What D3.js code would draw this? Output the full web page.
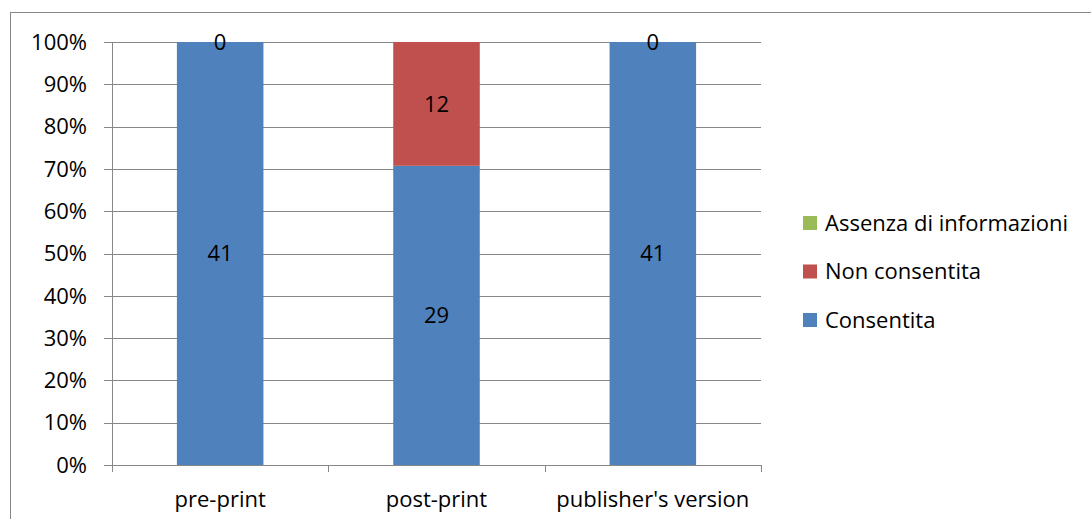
<!DOCTYPE html>
<html><head><meta charset="utf-8">
<script src="https://cdn.jsdelivr.net/npm/d3@7"></script>
<style>body{margin:0;background:#fff;}svg{display:block;font-family:"Open Sans",sans-serif;}</style>
</head><body>
<svg id="c" width="1091" height="519"></svg>
<script>
const categories = ["pre-print", "post-print", "publisher's version"];
const consentita = [41, 29, 41];
const nonConsentita = [0, 12, 0];
const assenza = [null, null, null];
const seriesNames = ["Consentita", "Non consentita", "Assenza di informazioni"];
const seriesColors = ["#4F81BD", "#C0504D", "#9BBB59"];
const yTicks = [0, 0.1, 0.2, 0.3, 0.4, 0.5, 0.6, 0.7, 0.8, 0.9, 1];

const FS = 22;
const svg = d3.select("#c");
const grey = "#878787";
svg.append("rect").attr("x", 10.5).attr("y", 12.5).attr("width", 1200).attr("height", 600)
  .attr("fill", "none").attr("stroke", grey).attr("stroke-width", 1);

const L = 112, R = 761, T = 42, B = 465;
const x = d3.scaleBand().domain(categories).range([L, R]).paddingInner(0.6).paddingOuter(0.3);
const xb = d3.scaleBand().domain(categories).range([L, R]);
const y = d3.scaleLinear().domain([0, 1]).range([B, T]);

svg.append("g").selectAll("line").data(yTicks).join("line")
  .attr("x1", L - 8).attr("x2", R).attr("y1", d => Math.round(y(d)) + 0.5).attr("y2", d => Math.round(y(d)) + 0.5)
  .attr("stroke", grey).attr("stroke-width", 1);

const table = categories.map((c, i) => ({cat: c, Consentita: consentita[i], "Non consentita": nonConsentita[i], "Assenza di informazioni": assenza[i] || 0, raw: [consentita[i], nonConsentita[i], assenza[i]]}));
const stack = d3.stack().keys(seriesNames).offset(d3.stackOffsetExpand);
const stacked = stack(table);

stacked.forEach((s, si) => {
  svg.append("g").selectAll("rect").data(s).join("rect")
    .attr("x", d => x(d.data.cat)).attr("width", x.bandwidth())
    .attr("y", d => y(d[1])).attr("height", d => y(d[0]) - y(d[1]))
    .attr("fill", seriesColors[si]);
});
stacked.forEach((s, si) => {
  svg.append("g").selectAll("text").data(s.filter(d => d.data.raw[si] !== null)).join("text")
    .attr("x", d => x(d.data.cat) + x.bandwidth() / 2)
    .attr("y", d => y((d[0] + d[1]) / 2))
    .attr("dy", "0.35em").attr("text-anchor", "middle")
    .attr("font-size", FS).attr("fill", "#000")
    .text(d => d.data.raw[si]);
});

svg.append("line").attr("x1", L + 0.5).attr("x2", L + 0.5).attr("y1", T).attr("y2", B + 7).attr("stroke", grey);
svg.append("line").attr("x1", L - 8).attr("x2", R).attr("y1", B + 0.5).attr("y2", B + 0.5).attr("stroke", grey);
const catTicks = categories.map(c => xb(c)).concat([R]);
svg.append("g").selectAll("line").data(catTicks).join("line")
  .attr("x1", d => Math.round(d) + 0.5).attr("x2", d => Math.round(d) + 0.5)
  .attr("y1", B).attr("y2", B + 7).attr("stroke", grey);

svg.append("g").selectAll("text").data(yTicks).join("text")
  .attr("x", 87).attr("y", d => y(d)).attr("dy", "0.35em").attr("text-anchor", "end")
  .attr("font-size", FS).attr("fill", "#000").text(d => Math.round(d * 100) + "%");
svg.append("g").selectAll("text").data(categories).join("text")
  .attr("x", d => xb(d) + xb.bandwidth() / 2).attr("y", 507).attr("text-anchor", "middle")
  .attr("font-size", FS).attr("fill", "#000").text(d => d);

const legendOrder = [2, 1, 0];
const lg = svg.append("g").selectAll("g").data(legendOrder).join("g")
  .attr("transform", (d, i) => `translate(803, ${223 + i * 48.5})`);
lg.append("rect").attr("x", 0).attr("y", -7).attr("width", 14).attr("height", 14).attr("fill", d => seriesColors[d]);
lg.append("text").attr("x", 22).attr("y", 0).attr("dy", "0.35em").attr("font-size", FS).attr("fill", "#000")
  .text(d => seriesNames[d]);
</script>
</body></html>
